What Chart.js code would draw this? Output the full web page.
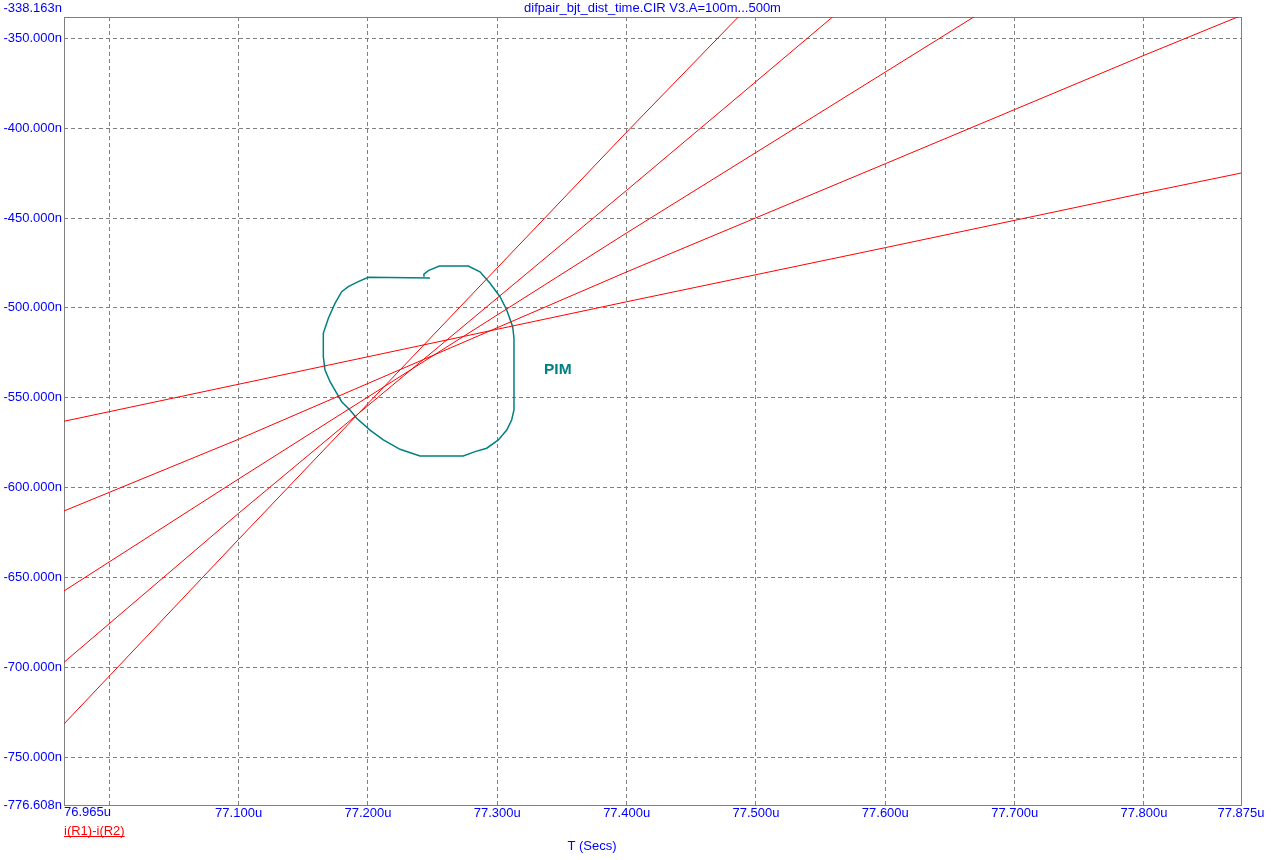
<!DOCTYPE html>
<html>
<head>
<meta charset="utf-8">
<script src="https://cdn.jsdelivr.net/npm/chart.js@4.4.0/dist/chart.umd.min.js"></script>
<style>
  html, body { margin: 0; padding: 0; background: #fff; }
  #chart-wrap { width: 1276px; height: 860px; position: relative; }
</style>
</head>
<body>
<div id="chart-wrap"><canvas id="chart"></canvas></div>
<script>
const TITLE = 'difpair_bjt_dist_time.CIR V3.A=100m...500m';
const X_TITLE = 'T (Secs)';
const SERIES_NAME = 'i(R1)-i(R2)';
const NOTE_TEXT = 'PIM';

const X_MIN = 76.965;
const X_MAX = 77.875;
const Y_MIN = -776.608;
const Y_MAX = -338.163;

const X_TICKS = [76.965, 77.0, 77.1, 77.2, 77.3, 77.4, 77.5, 77.6, 77.7, 77.8, 77.875];
const X_TICK_LABELS = ['76.965u', '', '77.100u', '77.200u', '77.300u', '77.400u', '77.500u', '77.600u', '77.700u', '77.800u', '77.875u'];
const Y_TICKS = [-776.608, -750, -700, -650, -600, -550, -500, -450, -400, -350, -338.163];
const Y_TICK_LABELS = ['-776.608n', '-750.000n', '-700.000n', '-650.000n', '-600.000n', '-550.000n', '-500.000n', '-450.000n', '-400.000n', '-350.000n', '-338.163n'];

// one trace per V3.A step (100m ... 500m)
const T_STEP1 = [76.965, 77.1, 77.4, 77.6, 77.8, 77.875];
const I_STEP1 = [-563.1, -542.5, -496.6, -466.5, -436.1, -425.0];
const T_STEP2 = [76.965, 77.1, 77.4, 77.6, 77.8, 77.875];
const I_STEP2 = [-613.0, -573.1, -480.0, -419.8, -359.5, -337.4];
const T_STEP3 = [76.965, 77.1, 77.4, 77.6, 77.7];
const I_STEP3 = [-657.5, -595.2, -458.3, -368.8, -324.0];
const T_STEP4 = [76.965, 77.1, 77.4, 77.5, 77.6];
const I_STEP4 = [-697.2, -614.3, -434.6, -374.1, -313.4];
const T_STEP5 = [76.965, 77.1, 77.4, 77.5];
const I_STEP5 = [-731.5, -628.8, -402.2, -328.0];

// hand drawn loop round the crossing
const LOOP_T = [77.2480, 77.2003, 77.1925, 77.1848, 77.1797, 77.1745, 77.1694, 77.1655, 77.1655, 77.1668,
  77.1707, 77.1758, 77.1797, 77.1861, 77.1913, 77.2016, 77.2119, 77.2248, 77.2402, 77.2737,
  77.2828, 77.2918, 77.3008, 77.3073, 77.3111, 77.3129, 77.3129, 77.3119, 77.3073, 77.3021,
  77.2944, 77.2866, 77.2776, 77.2552, 77.2467, 77.2433, 77.2433];
const LOOP_I = [-483.4, -483.0, -485.4, -488.2, -491.0, -497.5, -505.8, -514.2, -527.2, -534.6,
  -541.1, -547.5, -552.2, -556.8, -561.4, -568.0, -573.5, -578.7, -582.4, -582.4,
  -580.0, -578.1, -573.5, -568.0, -562.4, -556.8, -516.9, -510.5, -501.2, -493.8,
  -486.3, -479.9, -476.7, -476.7, -479.3, -481.2, -482.7];
const NOTE_T = 77.3361;
const NOTE_I = -534.6;

const FONT_FAMILY = '"Liberation Sans", Arial, sans-serif';
const FONT_SIZE = 13;
const BLUE = '#0000ff';
const GREY = '#808080';
const X_TICK_PAD = 1;

function to_points(ts, vs) {
  return ts.map((t, i) => ({ x: t, y: vs[i] }));
}

function make_trace(ts, vs, color, width) {
  return {
    data: to_points(ts, vs),
    showLine: true,
    borderColor: color,
    borderWidth: width,
    pointRadius: 0,
    tension: 0,
  };
}

function edge_transparent(ctx) {
  const last = ctx.scale.ticks.length - 1;
  return (ctx.index === 0 || ctx.index === last) ? 'rgba(0,0,0,0)' : GREY;
}

const TEXT_PLUGIN = {
  id: 'texts',
  beforeDatasetsDraw(chart) {
    const { ctx, chartArea: a } = chart;
    ctx.save();
    ctx.strokeStyle = GREY;
    ctx.lineWidth = 1;
    ctx.strokeRect(Math.round(a.left) + 0.5, Math.round(a.top) + 0.5, Math.round(a.right - a.left), Math.round(a.bottom - a.top));
    ctx.restore();
  },
  afterDraw(chart) {
    const { ctx, chartArea: a, scales } = chart;
    ctx.save();
    ctx.font = FONT_SIZE + 'px ' + FONT_FAMILY;
    ctx.fillStyle = BLUE;

    ctx.textAlign = 'center';
    ctx.textBaseline = 'middle';
    ctx.fillText(TITLE, (a.left + a.right) / 2, a.top - 9);

    ctx.textAlign = 'right';
    ctx.fillText(Y_TICK_LABELS[Y_TICK_LABELS.length - 1], a.left - 2, a.top - 9);

    ctx.textAlign = 'left';
    ctx.textBaseline = 'top';
    ctx.fillText(X_TICK_LABELS[0], a.left, a.bottom + X_TICK_PAD);

    ctx.textAlign = 'center';
    ctx.textBaseline = 'middle';
    ctx.fillText(X_TITLE, a.left + 528, a.bottom + 41);

    ctx.fillStyle = '#ff0000';
    ctx.textAlign = 'left';
    ctx.fillText(SERIES_NAME, a.left, a.bottom + 26);
    const w = ctx.measureText(SERIES_NAME).width;
    ctx.strokeStyle = '#ff0000';
    ctx.lineWidth = 1;
    ctx.beginPath();
    ctx.moveTo(a.left, a.bottom + 31.5);
    ctx.lineTo(a.left + w, a.bottom + 31.5);
    ctx.stroke();

    ctx.fillStyle = '#008080';
    ctx.font = 'bold 15.5px ' + FONT_FAMILY;
    ctx.fillText(NOTE_TEXT, scales.x.getPixelForValue(NOTE_T), scales.y.getPixelForValue(NOTE_I));
    ctx.restore();
  },
};

const CHART_OPTIONS = {
  maintainAspectRatio: false,
  responsive: true,
  animation: false,
  layout: {
    padding: { top: 17, right: 35, left: 0, bottom: 0 },
  },
  plugins: {
    legend: { display: false },
    tooltip: { enabled: false },
    title: { display: false },
  },
  scales: {
    x: {
      type: 'linear',
      min: X_MIN,
      max: X_MAX,
      afterBuildTicks: (scale) => { scale.ticks = X_TICKS.map(v => ({ value: v })); },
      afterFit: (scale) => { scale.height = 55; },
      grid: { color: edge_transparent, drawTicks: false, lineWidth: 1 },
      border: { display: false, dash: [4, 3] },
      ticks: {
        autoSkip: false,
        maxRotation: 0,
        padding: X_TICK_PAD,
        color: BLUE,
        font: { family: FONT_FAMILY, size: FONT_SIZE },
        callback: (value, index) => index === 0 ? '' : X_TICK_LABELS[index],
      },
    },
    y: {
      type: 'linear',
      min: Y_MIN,
      max: Y_MAX,
      afterBuildTicks: (scale) => { scale.ticks = Y_TICKS.map(v => ({ value: v })); },
      afterFit: (scale) => { scale.width = 64; },
      grid: { color: edge_transparent, drawTicks: false, lineWidth: 1 },
      border: { display: false, dash: [4, 3] },
      ticks: {
        autoSkip: false,
        padding: 2,
        color: BLUE,
        font: { family: FONT_FAMILY, size: FONT_SIZE },
        callback: (value, index) => index === Y_TICK_LABELS.length - 1 ? '' : Y_TICK_LABELS[index],
      },
    },
  },
};

const CHART = new Chart(document.getElementById('chart'), {
  type: 'scatter',
  data: {
    datasets: [
      make_trace(T_STEP1, I_STEP1, '#ff0000', 1),
      make_trace(T_STEP2, I_STEP2, '#ff0000', 1),
      make_trace(T_STEP3, I_STEP3, '#ff0000', 1),
      make_trace(T_STEP4, I_STEP4, '#ff0000', 1),
      make_trace(T_STEP5, I_STEP5, '#ff0000', 1),
      make_trace(LOOP_T, LOOP_I, '#008080', 1.5),
    ],
  },
  options: CHART_OPTIONS,
  plugins: [TEXT_PLUGIN],
});
</script>
</body>
</html>
